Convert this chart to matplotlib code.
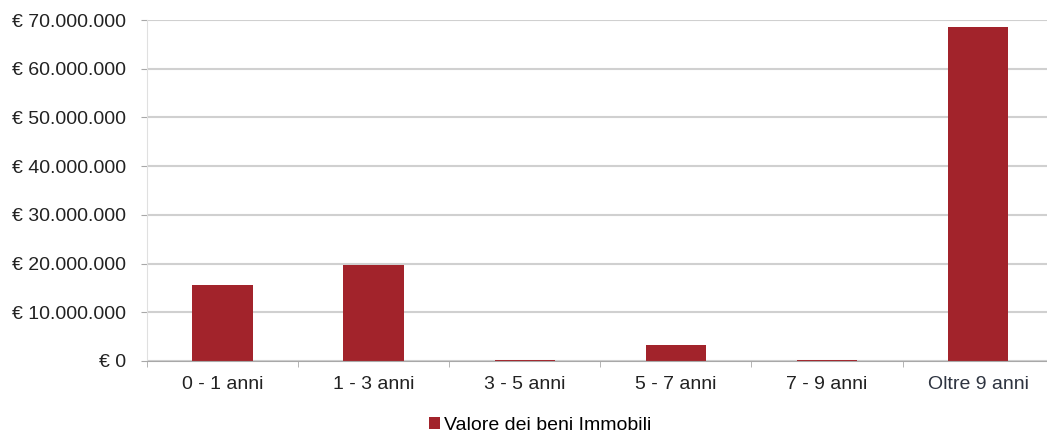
import matplotlib.pyplot as plt
import numpy as np
from matplotlib.ticker import FuncFormatter

# dati
categories = ['0 - 1 anni', '1 - 3 anni', '3 - 5 anni', '5 - 7 anni', '7 - 9 anni', 'Oltre 9 anni']
values = [15600000, 19800000, 250000, 3350000, 250000, 68600000]
series_name = 'Valore dei beni Immobili'

bar_color = '#A2232B'
grid_color = '#D0D0D0'
axis_color = '#A8A8A8'

plt.rcParams['font.family'] = ['Liberation Sans', 'DejaVu Sans']

fig = plt.figure(figsize=(10.47, 4.37), dpi=100)
ax = fig.add_axes([0.1404, 0.174, 0.866, 0.780])

x = np.arange(len(categories))
ax.bar(x, values, width=0.4, color=bar_color, label=series_name, zorder=3)

ax.set_xlim(-0.5, len(categories) - 0.5)
ax.set_ylim(0, 70000000)
ax.set_yticks(np.arange(0, 70000001, 10000000))


def euro(v, pos):
    if v == 0:
        return '€ 0'
    return '€ ' + f'{int(v):,}'.replace(',', '.')


ax.yaxis.set_major_formatter(FuncFormatter(euro))
ax.set_xticks(x)
ax.set_xticklabels(categories)
ax.set_xticks(np.arange(-0.5, len(categories)), minor=True)

ax.grid(axis='y', color=grid_color, linewidth=1.5, zorder=0)
for s in ['top', 'right']:
    ax.spines[s].set_visible(False)
ax.spines['left'].set_color('#E0E0E0')
ax.spines['bottom'].set_color(axis_color)
ax.spines['bottom'].set_zorder(4)

ax.tick_params(axis='y', length=4, color=axis_color, labelsize=14, pad=11, labelcolor='#222222')
ax.tick_params(axis='x', which='major', length=0, labelsize=14, pad=11, labelcolor='#222222')
ax.tick_params(axis='x', which='minor', length=4, color=axis_color)
ax.get_xticklabels()[-1].set_color('#2E3440')

fig.legend(loc='center', bbox_to_anchor=(0.516, 0.027), frameon=False, fontsize=14,
           handlelength=0.55, handleheight=0.55, handletextpad=0.2)

plt.savefig('out.png', dpi=100)
